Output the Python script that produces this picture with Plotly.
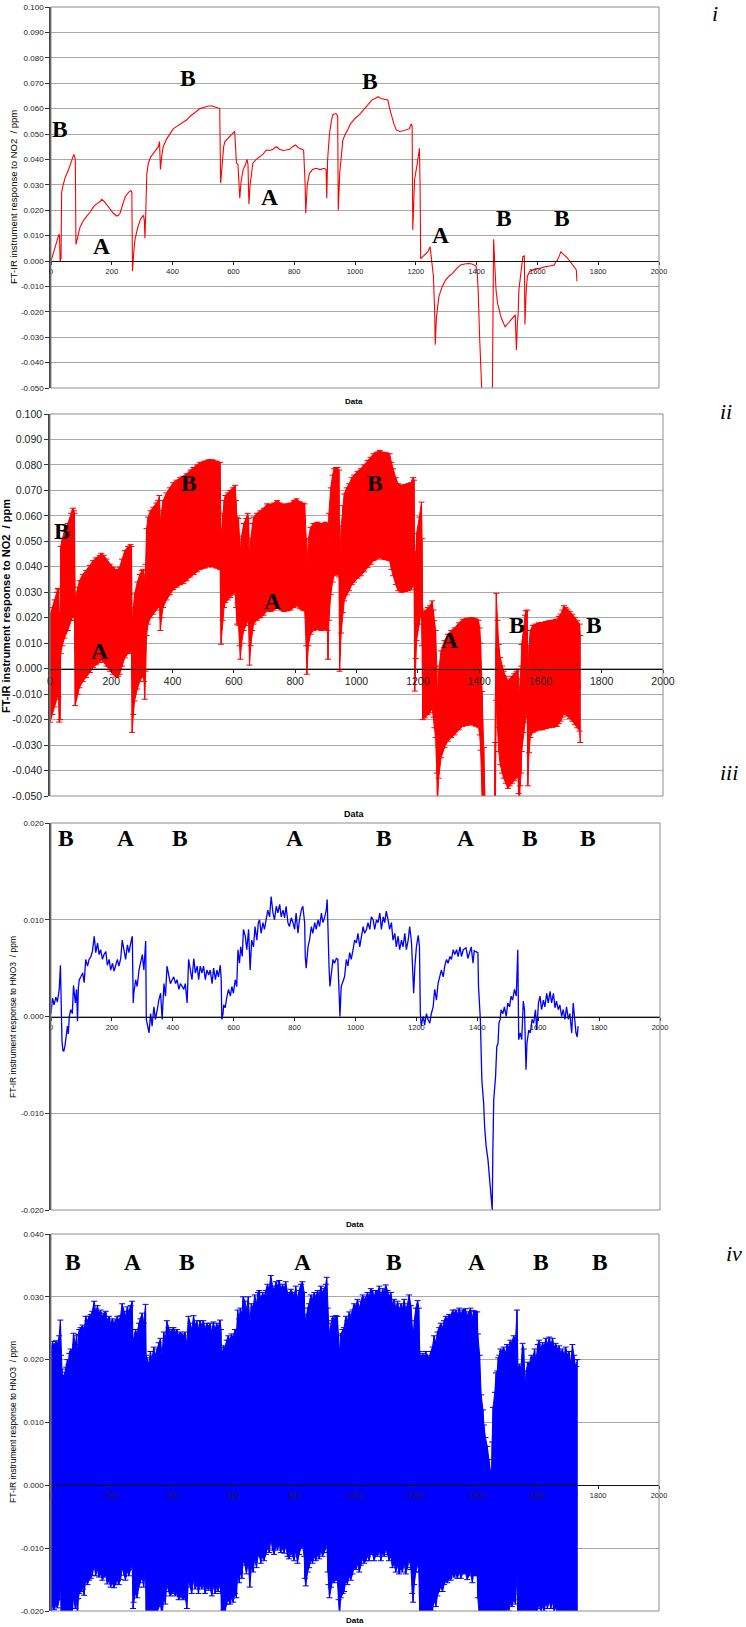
import plotly.graph_objects as go

W, H = 746, 1627

# ---------------- data ----------------
NO2_X = [0, 8, 15, 22, 26, 28, 30, 33, 35, 40, 47, 58, 69, 75, 78, 80, 82, 90, 96, 107,
         118, 130, 140, 150, 162, 167, 175, 184, 195, 205, 216, 222, 227, 235, 244, 255, 263, 266, 268, 272,
         276, 285, 293, 300, 304, 307, 309, 312, 315, 320, 328, 337, 347, 353, 357, 360, 364, 369, 380, 391,
         402, 413, 425, 435, 446, 458, 468, 480, 490, 505, 517, 530, 544, 555, 558, 563, 568, 572, 580, 588,
         597, 604, 607, 610, 615, 619, 621, 625, 632, 640, 645, 648, 651, 655, 660, 664, 675, 686, 697, 708,
         720, 730, 741, 752, 763, 773, 785, 795, 804, 815, 825, 831, 836, 838, 843, 850, 860, 872, 885, 899,
         905, 907, 910, 916, 922, 927, 933, 938, 943, 945, 950, 955, 960, 968, 976, 985, 992, 1003, 1014, 1025,
         1036, 1046, 1056, 1066, 1076, 1085, 1095, 1108, 1114, 1119, 1128, 1136, 1147, 1158, 1169, 1178, 1185, 1188, 1190, 1193,
         1196, 1205, 1212, 1214, 1216, 1223, 1232, 1240, 1247, 1251, 1254, 1258, 1262, 1264, 1268, 1276, 1287, 1298, 1309, 1320,
         1334, 1347, 1360, 1374, 1385, 1390, 1398, 1402, 1405, 1410, 1416, 1420, 1430, 1445, 1450, 1452, 1456, 1460, 1464, 1469,
         1475, 1480, 1487, 1494, 1500, 1507, 1515, 1522, 1527, 1529, 1531, 1534, 1537, 1539, 1545, 1549, 1552, 1557, 1559, 1563,
         1567, 1575, 1584, 1595, 1606, 1617, 1628, 1640, 1650, 1655, 1660, 1666, 1672, 1677, 1682, 1688, 1696, 1704, 1712, 1720,
         1728, 1730]
NO2_Y = [0.000, 0.003, 0.006, 0.009, 0.0105, 0.010, 0.000, 0.001, 0.027, 0.030, 0.033, 0.036, 0.040, 0.042, 0.041, 0.040, 0.0065, 0.011, 0.0135, 0.016,
         0.0175, 0.0195, 0.0214, 0.0225, 0.0234, 0.0243, 0.0235, 0.022, 0.020, 0.0188, 0.0177, 0.018, 0.0188, 0.022, 0.0253, 0.027, 0.0277, 0.027, -0.004, 0.003,
         0.0083, 0.013, 0.016, 0.0175, 0.018, 0.016, 0.009, 0.020, 0.034, 0.0385, 0.041, 0.0424, 0.044, 0.045, 0.047, 0.036, 0.041, 0.045, 0.048, 0.050,
         0.052, 0.053, 0.054, 0.0545, 0.0555, 0.057, 0.058, 0.059, 0.060, 0.0605, 0.061, 0.061, 0.0605, 0.060, 0.0306, 0.040, 0.045, 0.047, 0.048, 0.049,
         0.050, 0.051, 0.045, 0.0385, 0.038, 0.030, 0.0247, 0.031, 0.036, 0.038, 0.040, 0.038, 0.0224, 0.030, 0.036, 0.0385, 0.040, 0.041, 0.042, 0.0437,
         0.0435, 0.044, 0.045, 0.044, 0.0435, 0.0437, 0.044, 0.045, 0.0457, 0.0445, 0.044, 0.0437, 0.030, 0.0188, 0.030, 0.0345, 0.036, 0.0365, 0.036, 0.0365,
         0.036, 0.0247, 0.040, 0.050, 0.055, 0.0575, 0.058, 0.058, 0.057, 0.020, 0.035, 0.043, 0.0476, 0.050, 0.0516, 0.054, 0.055, 0.0565, 0.0575, 0.059,
         0.0608, 0.062, 0.0634, 0.064, 0.0647, 0.064, 0.0638, 0.0634, 0.060, 0.0575, 0.054, 0.0516, 0.051, 0.0513, 0.0516, 0.052, 0.054, 0.053, 0.0122, 0.025,
         0.032, 0.0385, 0.0444, 0.030, 0.001, 0.0017, 0.003, 0.0037, 0.0056, 0.002, -0.0022, -0.006, -0.020, -0.033, -0.022, -0.014, -0.010, -0.0075, -0.006, -0.005,
         -0.003, -0.0016, -0.0012, -0.001, -0.0012, -0.0016, -0.002, -0.005, -0.011, -0.030, -0.052, -0.075, -0.090, -0.090, -0.075, -0.050, 0.0086, -0.002, -0.0115, -0.0167,
         -0.020, -0.022, -0.024, -0.026, -0.025, -0.024, -0.023, -0.022, -0.0212, -0.028, -0.035, -0.025, -0.020, -0.0115, -0.004, 0.000, 0.0017, 0.002, -0.025, -0.012,
         -0.006, -0.004, -0.0035, -0.003, -0.003, -0.0025, -0.0022, -0.002, -0.0016, -0.0016, -0.0005, 0.0004, 0.002, 0.0037, 0.003, 0.0024, 0.0015, 0.0004, -0.001, -0.0022,
         -0.0035, -0.008]

HNO3_X = [0, 5, 10, 16, 21, 27, 31, 33, 36, 39, 42, 46, 50, 54, 57, 60, 65, 70, 74, 80,
          84, 87, 90, 93, 98, 104, 109, 114, 120, 125, 131, 136, 142, 147, 153, 158, 163, 169, 174, 180,
          185, 191, 196, 202, 207, 212, 218, 223, 229, 234, 240, 245, 251, 256, 262, 267, 270, 272, 278, 283,
          289, 294, 300, 305, 311, 313, 316, 322, 327, 332, 338, 343, 349, 354, 360, 365, 371, 376, 381, 387,
          392, 398, 403, 409, 414, 420, 425, 431, 436, 441, 447, 452, 458, 463, 469, 474, 480, 485, 490, 496,
          501, 507, 512, 518, 523, 529, 534, 540, 545, 550, 556, 559, 561, 565, 567, 572, 578, 583, 589, 594,
          599, 605, 610, 614, 619, 623, 628, 632, 638, 643, 649, 654, 659, 665, 670, 676, 681, 685, 690, 696,
          701, 707, 712, 718, 723, 729, 734, 740, 745, 751, 756, 762, 767, 772, 778, 783, 789, 795, 800, 805,
          811, 816, 822, 827, 833, 835, 838, 844, 849, 855, 860, 866, 871, 877, 882, 888, 893, 899, 904, 907,
          910, 913, 916, 921, 926, 931, 937, 942, 946, 949, 953, 959, 964, 970, 975, 981, 986, 992, 997, 1003,
          1008, 1014, 1019, 1025, 1030, 1036, 1041, 1047, 1052, 1058, 1063, 1069, 1074, 1080, 1085, 1091, 1096, 1101, 1107, 1112,
          1118, 1123, 1129, 1134, 1140, 1145, 1151, 1156, 1162, 1167, 1173, 1178, 1184, 1188, 1191, 1195, 1200, 1206, 1210, 1213,
          1216, 1220, 1223, 1227, 1233, 1238, 1244, 1249, 1255, 1260, 1266, 1271, 1277, 1282, 1288, 1293, 1299, 1304, 1310, 1315,
          1321, 1326, 1332, 1337, 1343, 1348, 1354, 1363, 1369, 1375, 1380, 1386, 1390, 1395, 1402, 1404, 1410, 1415, 1421, 1424,
          1429, 1435, 1440, 1446, 1449, 1451, 1454, 1460, 1464, 1468, 1471, 1475, 1478, 1484, 1489, 1495, 1500, 1506, 1511, 1516,
          1522, 1528, 1533, 1536, 1541, 1546, 1551, 1555, 1560, 1563, 1569, 1574, 1580, 1585, 1591, 1595, 1601, 1606, 1611, 1617,
          1622, 1628, 1633, 1639, 1644, 1650, 1655, 1660, 1666, 1671, 1677, 1682, 1688, 1693, 1699, 1704, 1710, 1715, 1721, 1724,
          1728, 1731]
HNO3_Y = [0.0003, 0.0019, 0.0012, 0.0020, 0.0015, 0.0028, 0.0053, -0.0003, -0.0025, -0.0035, -0.0036, -0.0030, -0.0022, -0.0010, -0.0018, 0.0000, 0.0007, 0.0003, 0.0032, 0.0014,
          0.0028, -0.0005, 0.0030, 0.0038, 0.0041, 0.0045, 0.0035, 0.0059, 0.0052, 0.0059, 0.0062, 0.0067, 0.0083, 0.0066, 0.0076, 0.0064, 0.0069, 0.0059, 0.0064, 0.0067,
          0.0053, 0.0059, 0.0048, 0.0055, 0.0047, 0.0053, 0.0059, 0.0052, 0.0060, 0.0079, 0.0067, 0.0059, 0.0074, 0.0066, 0.0076, 0.0083, 0.0014, 0.0024, 0.0038, 0.0031,
          0.0048, 0.0055, 0.0064, 0.0048, 0.0078, -0.0003, -0.0007, -0.0017, 0.0003, -0.0010, 0.0010, -0.0003, 0.0007, 0.0017, 0.0024, -0.0003, 0.0034, 0.0021, 0.0052, 0.0041,
          0.0034, 0.0038, 0.0041, 0.0034, 0.0038, 0.0028, 0.0034, 0.0031, 0.0028, 0.0034, 0.0014, 0.0059, 0.0048, 0.0038, 0.0060, 0.0045, 0.0052, 0.0038, 0.0052, 0.0045,
          0.0052, 0.0038, 0.0048, 0.0043, 0.0048, 0.0034, 0.0050, 0.0038, 0.0048, 0.0041, 0.0053, 0.0038, -0.0003, 0.0003, 0.0012, 0.0009, 0.0021, 0.0028, 0.0021, 0.0031,
          0.0024, 0.0038, 0.0031, 0.0069, 0.0055, 0.0072, 0.0062, 0.0090, 0.0083, 0.0069, 0.0090, 0.0048, 0.0079, 0.0072, 0.0093, 0.0079, 0.0097, 0.0100, 0.0086, 0.0097,
          0.0090, 0.0100, 0.0110, 0.0103, 0.0124, 0.0107, 0.0100, 0.0114, 0.0107, 0.0116, 0.0103, 0.0110, 0.0102, 0.0114, 0.0097, 0.0093, 0.0102, 0.0097, 0.0090, 0.0107,
          0.0086, 0.0100, 0.0110, 0.0114, 0.0097, 0.0062, 0.0050, 0.0072, 0.0079, 0.0093, 0.0086, 0.0097, 0.0090, 0.0100, 0.0093, 0.0107, 0.0097, 0.0103, 0.0110, 0.0121,
          0.0072, 0.0052, 0.0031, 0.0048, 0.0059, 0.0055, 0.0060, 0.0059, 0.0028, 0.0000, 0.0031, 0.0038, 0.0041, 0.0059, 0.0052, 0.0066, 0.0059, 0.0069, 0.0079, 0.0076,
          0.0086, 0.0072, 0.0083, 0.0093, 0.0086, 0.0090, 0.0097, 0.0090, 0.0103, 0.0100, 0.0090, 0.0100, 0.0097, 0.0107, 0.0090, 0.0103, 0.0097, 0.0109, 0.0100, 0.0090,
          0.0097, 0.0079, 0.0086, 0.0072, 0.0083, 0.0069, 0.0079, 0.0072, 0.0086, 0.0069, 0.0079, 0.0093, 0.0076, 0.0038, 0.0024, 0.0052, 0.0072, 0.0084, 0.0072, 0.0003,
          -0.0010, -0.0003, 0.0000, -0.0009, 0.0003, -0.0003, -0.0007, 0.0003, 0.0010, 0.0028, 0.0017, 0.0034, 0.0041, 0.0048, 0.0041, 0.0052, 0.0059, 0.0055, 0.0062, 0.0059,
          0.0069, 0.0064, 0.0069, 0.0062, 0.0072, 0.0062, 0.0069, 0.0071, 0.0060, 0.0066, 0.0072, 0.0055, 0.0068, 0.0067, 0.0066, 0.0031, -0.0003, -0.0066, -0.0090, -0.0114,
          -0.0134, -0.0148, -0.0169, -0.0190, -0.0200, -0.0141, -0.0086, -0.0062, -0.0031, -0.0028, -0.0007, -0.0003, 0.0007, 0.0003, 0.0010, 0.0000, 0.0014, 0.0010, 0.0021, 0.0017,
          0.0028, 0.0021, 0.0069, -0.0024, -0.0017, -0.0024, 0.0016, 0.0007, -0.0055, -0.0028, -0.0014, -0.0017, -0.0003, -0.0007, 0.0007, -0.0014, 0.0014, 0.0021, 0.0007, 0.0017,
          0.0010, 0.0024, 0.0014, 0.0026, 0.0014, 0.0024, 0.0009, 0.0016, 0.0007, 0.0012, 0.0000, 0.0007, -0.0003, 0.0010, -0.0003, 0.0003, -0.0017, 0.0014, -0.0003, -0.0017,
          -0.0021, -0.0010]

NO2_ERR = 0.021   # uncertainty shown as error bars in panel ii
HNO3_ERR = 0.021  # uncertainty shown as error bars in panel iv

X_TICKS = [0, 200, 400, 600, 800, 1000, 1200, 1400, 1600, 1800, 2000]
X_TICK_LABELS = ["0", "200", "400", "600", "800", "1000", "1200", "1400", "1600", "1800", "2000"]
NO2_TICKS = [-0.05, -0.04, -0.03, -0.02, -0.01, 0.0, 0.01, 0.02, 0.03, 0.04, 0.05, 0.06, 0.07, 0.08, 0.09, 0.10]
NO2_TICK_LABELS = ["-0.050", "-0.040", "-0.030", "-0.020", "-0.010", "0.000", "0.010", "0.020",
                   "0.030", "0.040", "0.050", "0.060", "0.070", "0.080", "0.090", "0.100"]
HNO3_TICKS_III = [-0.02, -0.01, 0.0, 0.01, 0.02]
HNO3_TICK_LABELS_III = ["-0.020", "-0.010", "0.000", "0.010", "0.020"]
HNO3_TICKS_IV = [-0.02, -0.01, 0.0, 0.01, 0.02, 0.03, 0.04]
HNO3_TICK_LABELS_IV = ["-0.020", "-0.010", "0.000", "0.010", "0.020", "0.030", "0.040"]

NO2_TITLE = "FT-IR instrument response to NO2  / ppm"
HNO3_TITLE = "FT-IR instrument response to HNO3  / ppm"

# labels A/B (x in data units, y in data units) per panel
LAB_I = [("B", 30, 0.052), ("A", 166, 0.006), ("B", 452, 0.072), ("A", 718, 0.025),
         ("B", 1048, 0.071), ("A", 1282, 0.0103), ("B", 1490, 0.017), ("B", 1682, 0.017)]
LAB_II = [("B", 40, 0.054), ("A", 162, 0.0068), ("B", 452, 0.073), ("A", 726, 0.0265),
          ("B", 1060, 0.073), ("A", 1305, 0.0113), ("B", 1525, 0.0172), ("B", 1775, 0.0172)]
LAB_III = [("B", 50, 0.0184), ("A", 246, 0.0184), ("B", 423, 0.0184), ("A", 800, 0.0184),
           ("B", 1094, 0.0184), ("A", 1362, 0.0184), ("B", 1573, 0.0184), ("B", 1765, 0.0184)]
LAB_IV = [("B", 71, 0.0356), ("A", 268, 0.0356), ("B", 448, 0.0356), ("A", 828, 0.0356),
          ("B", 1128, 0.0356), ("A", 1399, 0.0356), ("B", 1612, 0.0356), ("B", 1806, 0.0356)]

# ---------------- layout geometry ----------------
PANELS = [
    dict(box=(51, 7, 659, 388), yr=(-0.05, 0.10), tv=NO2_TICKS, tt=NO2_TICK_LABELS, yfs=8, xfs=7.5),
    dict(box=(50, 414, 663, 796), yr=(-0.05, 0.10), tv=NO2_TICKS, tt=NO2_TICK_LABELS, yfs=10.5, xfs=10.5),
    dict(box=(51, 823, 660, 1210), yr=(-0.02, 0.02), tv=HNO3_TICKS_III, tt=HNO3_TICK_LABELS_III, yfs=8, xfs=7.5),
    dict(box=(51, 1234, 659, 1611), yr=(-0.02, 0.04), tv=HNO3_TICKS_IV, tt=HNO3_TICK_LABELS_IV, yfs=8, xfs=7.5),
]

SANS = "Liberation Sans, Arial, sans-serif"
SERIF = "Liberation Serif, Times New Roman, serif"
RED = "#FF0000"
BLUE = "#0000FF"

fig = go.Figure()
layout = dict(width=W, height=H, margin=dict(l=0, r=0, t=0, b=0, pad=0, autoexpand=False),
              paper_bgcolor="white", plot_bgcolor="white", showlegend=False,
              annotations=[], shapes=[])

for i, p in enumerate(PANELS, start=1):
    l, t, r, b = p["box"]
    xd = [l / W, r / W]
    yd = [1 - b / H, 1 - t / H]
    y0, y1 = p["yr"]
    zero_pos = yd[0] + (0 - y0) / (y1 - y0) * (yd[1] - yd[0])
    sx = "" if i == 1 else str(i)
    layout["xaxis" + sx] = dict(domain=xd, range=[0, 2000], anchor="free", position=zero_pos,
                                tickvals=X_TICKS, ticktext=X_TICK_LABELS, ticks="outside", ticklen=3,
                                tickcolor="#222", showline=True, linecolor="#111", linewidth=1,
                                showgrid=False, zeroline=False, layer="above traces",
                                tickfont=dict(family=SANS, size=p["xfs"], color="#222"), fixedrange=True)
    layout["yaxis" + sx] = dict(domain=yd, range=[y0, y1], anchor="x" + sx,
                                tickvals=p["tv"], ticktext=p["tt"], ticks="outside", ticklen=4,
                                tickcolor="#333", showline=True, linecolor="#444", linewidth=1.5,
                                showgrid=True, gridcolor="#A8A8A8", gridwidth=1, zeroline=False,
                                tickfont=dict(family=SANS, size=p["yfs"], color="#222"), fixedrange=True)
    layout["shapes"].append(dict(type="rect", xref="x" + sx + " domain", yref="y" + sx + " domain",
                                 x0=0, x1=1, y0=0, y1=1, line=dict(color="#8C8C8C", width=1),
                                 layer="above"))

# panel i: NO2 line
fig.add_trace(go.Scatter(x=NO2_X, y=NO2_Y, mode="lines", line=dict(color=RED, width=1.1),
                         xaxis="x", yaxis="y"))

# panel ii: NO2 with error bars
no2_up = [v + NO2_ERR for v in NO2_Y]
no2_lo = [v - NO2_ERR for v in NO2_Y]
fig.add_trace(go.Scatter(x=NO2_X, y=no2_up, mode="lines", line=dict(color=RED, width=1),
                         xaxis="x2", yaxis="y2"))
fig.add_trace(go.Scatter(x=NO2_X, y=no2_lo, mode="lines", line=dict(color=RED, width=1),
                         fill="tonexty", fillcolor=RED, xaxis="x2", yaxis="y2"))
fig.add_trace(go.Scatter(x=NO2_X, y=NO2_Y, mode="lines", line=dict(color=RED, width=1),
                         error_y=dict(type="data", array=[NO2_ERR] * len(NO2_Y), color=RED,
                                      thickness=1, width=3),
                         xaxis="x2", yaxis="y2"))

# panel iii: HNO3 line
fig.add_trace(go.Scatter(x=HNO3_X, y=HNO3_Y, mode="lines", line=dict(color=BLUE, width=1.3),
                         xaxis="x3", yaxis="y3"))

# panel iv: HNO3 with error bars
h_up = [v + HNO3_ERR for v in HNO3_Y]
h_lo = [v - HNO3_ERR for v in HNO3_Y]
fig.add_trace(go.Scatter(x=HNO3_X, y=h_up, mode="lines", line=dict(color=BLUE, width=1),
                         xaxis="x4", yaxis="y4"))
fig.add_trace(go.Scatter(x=HNO3_X, y=h_lo, mode="lines", line=dict(color=BLUE, width=1),
                         fill="tonexty", fillcolor=BLUE, xaxis="x4", yaxis="y4"))
fig.add_trace(go.Scatter(x=HNO3_X, y=HNO3_Y, mode="lines", line=dict(color=BLUE, width=1),
                         error_y=dict(type="data", array=[HNO3_ERR] * len(HNO3_Y), color=BLUE,
                                      thickness=1, width=3),
                         xaxis="x4", yaxis="y4"))

ann = layout["annotations"]
for sx, labs in [("", LAB_I), ("2", LAB_II), ("3", LAB_III), ("4", LAB_IV)]:
    for txt, xv, yv in labs:
        ann.append(dict(text="<b>" + txt + "</b>", x=xv, y=yv, xref="x" + sx, yref="y" + sx,
                        showarrow=False, xanchor="center", yanchor="middle",
                        font=dict(family=SERIF, size=23.5, color="black")))

# x-axis titles ("Data")
for (px, py, fs) in [(354, 402, 8), (354, 814, 9), (355, 1224, 8), (355, 1620, 8)]:
    ann.append(dict(text="<b>Data</b>", x=px / W, y=1 - py / H, xref="paper", yref="paper",
                    showarrow=False, xanchor="center", yanchor="middle",
                    font=dict(family=SANS, size=fs, color="black")))

# y-axis titles
for (txt, px, py, fs, bold) in [(NO2_TITLE, 13, 197, 9.5, False), (NO2_TITLE, 6, 606, 11, True),
                                (HNO3_TITLE, 13, 1017, 8.5, False), (HNO3_TITLE, 13, 1422, 8.5, False)]:
    ann.append(dict(text=("<b>" + txt + "</b>") if bold else txt, x=px / W, y=1 - py / H,
                    xref="paper", yref="paper", textangle=-90, showarrow=False,
                    xanchor="center", yanchor="middle",
                    font=dict(family=SANS, size=fs, color="black")))

# panel numerals
for (txt, px, py) in [("i", 715, 14), ("ii", 726, 412), ("iii", 729, 772), ("iv", 734, 1253)]:
    ann.append(dict(text="<i>" + txt + "</i>", x=px / W, y=1 - py / H, xref="paper", yref="paper",
                    showarrow=False, xanchor="center", yanchor="middle",
                    font=dict(family=SERIF, size=22, color="black")))

fig.update_layout(**layout)
fig.write_html("out.html")
